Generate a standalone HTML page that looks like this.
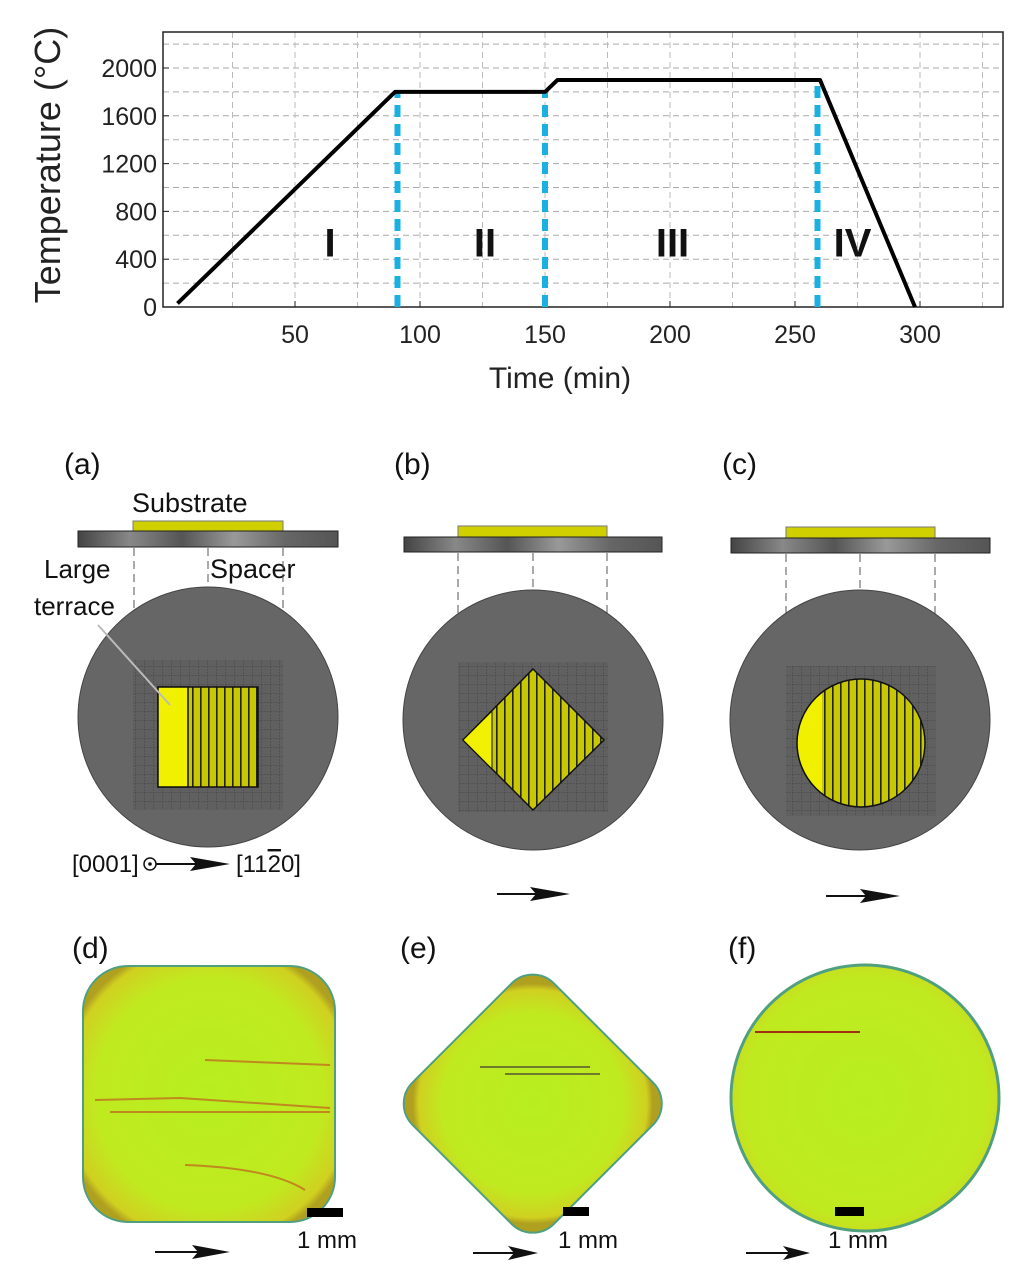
<!DOCTYPE html>
<html><head><meta charset="utf-8"><style>
body{margin:0;background:#fff;width:1024px;height:1278px;overflow:hidden}
svg{display:block;font-family:"Liberation Sans",sans-serif}
</style></head><body>
<svg id="fig" width="1024" height="1278" viewBox="0 0 1024 1278">
<defs>
<radialGradient id="gy" cx="50%" cy="50%" r="60%"><stop offset="0" stop-color="#b8ee20"/><stop offset="0.75" stop-color="#c0ea20"/><stop offset="0.95" stop-color="#d0d020"/><stop offset="1" stop-color="#b0a020"/></radialGradient>
<linearGradient id="bar" x1="0" x2="1"><stop offset="0" stop-color="#444"/><stop offset="0.2" stop-color="#888"/><stop offset="0.4" stop-color="#555"/><stop offset="0.6" stop-color="#999"/><stop offset="0.8" stop-color="#666"/><stop offset="1" stop-color="#555"/></linearGradient>
<pattern id="stripes" width="8" height="10" patternUnits="userSpaceOnUse"><rect width="8" height="10" fill="#c8c800"/><rect width="1.6" height="10" fill="#222"/></pattern>
<pattern id="grid" width="9" height="9" patternUnits="userSpaceOnUse"><rect width="9" height="9" fill="#5e5e5e"/><path d="M0 0V9M0 0H9" stroke="#3a3a3a" stroke-width="1" stroke-dasharray="2 1"/></pattern>
</defs>
<g id="chart"></g>

<g font-size="30" fill="#111">
<text x="64" y="474">(a)</text>
<text x="394" y="474">(b)</text>
<text x="722" y="474">(c)</text>
<text x="72" y="958">(d)</text>
<text x="400" y="958">(e)</text>
<text x="728" y="958">(f)</text>
</g>

<g>
<text x="132" y="512" font-size="27" fill="#111">Substrate</text>
<rect x="133" y="521" width="150" height="11" fill="#d0d000" stroke="#777" stroke-width="1"/>
<rect x="78" y="531" width="260" height="16" fill="url(#bar)" stroke="#222"/>
<text x="210" y="578" font-size="27" fill="#111">Spacer</text>
<text x="44" y="578" font-size="26" fill="#111">Large</text>
<text x="34" y="615" font-size="26" fill="#111">terrace</text>
<path d="M134 548V820M208 548V820M283 548V820" stroke="#555" stroke-dasharray="8 5"/>
<circle cx="208" cy="717" r="130" fill="#666" stroke="#444"/>
<rect x="133" y="660" width="150" height="150" fill="url(#grid)" opacity="0.8"/>
<rect x="158" y="687" width="100" height="100" fill="url(#stripes)" stroke="#111" stroke-width="1.5"/>
<rect x="158" y="687" width="30" height="100" fill="#f0f000" stroke="#111" stroke-width="1.5"/>
<line x1="98" y1="625" x2="170" y2="705" stroke="#bbb" stroke-width="2"/>
<text x="72" y="872" font-size="24" fill="#111">[0001]</text>
<circle cx="150" cy="864" r="6" fill="none" stroke="#111" stroke-width="1.5"/><circle cx="150" cy="864" r="1.8" fill="#111"/>
<line x1="156" y1="864" x2="205" y2="864" stroke="#111" stroke-width="2"/><path d="M190 857L230 864L190 871L196 864Z" fill="#111"/>
<text x="236" y="872" font-size="24" fill="#111">[11<tspan text-decoration="overline">2</tspan>0]</text>
</g>
<g>
<rect x="458" y="526" width="149" height="11" fill="#d0d000" stroke="#777"/>
<rect x="404" y="537" width="258" height="15" fill="url(#bar)" stroke="#222"/>
<path d="M458 553V820M533 553V820M607 553V820" stroke="#555" stroke-dasharray="8 5"/>
<circle cx="533" cy="720" r="130" fill="#666" stroke="#444"/>
<rect x="458" y="662" width="150" height="150" fill="url(#grid)" opacity="0.8"/>
<polygon points="533,669 604,740 533,810 463,740" fill="url(#stripes)" stroke="#111" stroke-width="1.5"/>
<polygon points="463,740 492,711 492,769" fill="#f0f000" stroke="#111" stroke-width="1"/>
<line x1="497" y1="894" x2="545" y2="894" stroke="#111" stroke-width="2"/><path d="M530 887L570 894L530 901L536 894Z" fill="#111"/>
</g>
<g>
<rect x="786" y="527" width="149" height="11" fill="#d0d000" stroke="#777"/>
<rect x="731" y="538" width="259" height="15" fill="url(#bar)" stroke="#222"/>
<path d="M786 554V820M860 554V820M935 554V820" stroke="#555" stroke-dasharray="8 5"/>
<circle cx="860" cy="720" r="130" fill="#666" stroke="#444"/>
<rect x="786" y="666" width="150" height="150" fill="url(#grid)" opacity="0.8"/>
<clipPath id="cc"><circle cx="861" cy="743" r="64"/></clipPath>
<circle cx="861" cy="743" r="64" fill="url(#stripes)"/>
<rect x="795" y="678" width="27" height="130" fill="#f0f000" clip-path="url(#cc)"/>
<circle cx="861" cy="743" r="64" fill="none" stroke="#111" stroke-width="1.5"/>
<line x1="826" y1="896" x2="874" y2="896" stroke="#111" stroke-width="2"/><path d="M860 889L900 896L860 903L866 896Z" fill="#111"/>
</g>
<g>
<rect x="83" y="966" width="252" height="256" rx="45" fill="url(#gy)" stroke="#50a080" stroke-width="2"/>
<path d="M95 1100L180 1098L330 1108M110 1112H330M185 1165Q270 1168 305 1190M205 1060L330 1065" stroke="#c06020" stroke-width="2" fill="none" opacity="0.7"/>
<rect x="307" y="1208" width="36" height="9" fill="#000"/>
<text x="297" y="1248" font-size="24" fill="#111">1 mm</text>
<line x1="155" y1="1252" x2="205" y2="1252" stroke="#111" stroke-width="2"/><path d="M192 1245L230 1252L192 1259L198 1252Z" fill="#111"/>
</g>
<g>
<rect x="438" y="1005" width="200" height="200" rx="30" transform="rotate(45 537 1098)" fill="url(#gy)" stroke="#50a080" stroke-width="2"/>
<path d="M480 1067H590M505 1074H600" stroke="#553" stroke-width="1.5"/>
<rect x="563" y="1207" width="26" height="9" fill="#000"/>
<text x="558" y="1248" font-size="24" fill="#111">1 mm</text>
<line x1="473" y1="1253" x2="520" y2="1253" stroke="#111" stroke-width="2"/><path d="M508 1246L538 1253L508 1260L514 1253Z" fill="#111"/>
</g>
<g>
<ellipse cx="865" cy="1098" rx="134" ry="133" fill="url(#gy)" stroke="#50a080" stroke-width="3"/>
<path d="M755 1032H860" stroke="#a03010" stroke-width="2"/>
<rect x="835" y="1207" width="29" height="9" fill="#000"/>
<text x="828" y="1248" font-size="24" fill="#111">1 mm</text>
<line x1="746" y1="1253" x2="795" y2="1253" stroke="#111" stroke-width="2"/><path d="M783 1246L810 1253L783 1260L789 1253Z" fill="#111"/>
</g>
</svg>
<script>
const xTicks=[50,100,150,200,250,300];
const yTicks=[0,400,800,1200,1600,2000];
const profileTime=[3,90,150,155,260,298];
const profileTemp=[30,1800,1800,1900,1900,0];
const stageBoundaries=[91,150,259];
const stageTops=[1800,1800,1900];
const stageLabels=["I","II","III","IV"];
const stageLabelTime=[64,126,201,273];
const NS="http://www.w3.org/2000/svg";
const g=document.getElementById('chart');
const L=163,R=1003,T=32,B=307;
const sx=t=>170+t*2.5;
const sy=v=>307-v*0.1195;
function mk(tag,attrs,parent){const e=document.createElementNS(NS,tag);for(const k in attrs)e.setAttribute(k,attrs[k]);(parent||g).appendChild(e);return e;}
for(let v=200;v<=2200;v+=200){const l=mk('line',{x1:L,x2:R,y1:sy(v),y2:sy(v),stroke:'#aaa','stroke-dasharray':'6 4'});

}
for(let t=25;t<=325;t+=25){const l=mk('line',{x1:sx(t),x2:sx(t),y1:T,y2:B,stroke:'#bbb','stroke-dasharray':'6 4'});

}
const frame=mk('rect',{x:L,y:T,width:R-L,height:B-T,fill:'none',stroke:'#222','stroke-width':1.5});


xTicks.forEach(t=>{mk('line',{x1:sx(t),x2:sx(t),y1:B,y2:B-6,stroke:'#222'});
const tx=mk('text',{x:sx(t),y:B+36,'font-size':25,'text-anchor':'middle',fill:'#222'});tx.textContent=t;

});
yTicks.forEach(v=>{mk('line',{x1:L,x2:L+6,y1:sy(v),y2:sy(v),stroke:'#222'});
const tx=mk('text',{x:L-6,y:sy(v)+9,'font-size':25,'text-anchor':'end',fill:'#222'});tx.textContent=v;

});
const xt=mk('text',{x:560,y:388,'font-size':30,'text-anchor':'middle',fill:'#222'});xt.textContent='Time (min)';


const yt=mk('text',{x:60,y:165,'font-size':36,'text-anchor':'middle',fill:'#222',transform:'rotate(-90 60 165)'});yt.textContent='Temperature (°C)';


stageBoundaries.forEach((t,i)=>{const l=mk('line',{x1:sx(t),x2:sx(t),y1:B,y2:sy(stageTops[i]),stroke:'#1ab0e0','stroke-width':6,'stroke-dasharray':'12 7'});

});
const pts=profileTime.map((t,i)=>sx(t)+','+sy(profileTemp[i])).join(' ');
const pl=mk('polyline',{points:pts,fill:'none',stroke:'#000','stroke-width':4,'stroke-linejoin':'round'});


stageLabels.forEach((s,i)=>{const tx=mk('text',{x:sx(stageLabelTime[i]),y:sy(550)+15,'font-size':40,'font-weight':'bold','text-anchor':'middle',fill:'#111'});tx.textContent=s;

});
</script>
</body></html>
